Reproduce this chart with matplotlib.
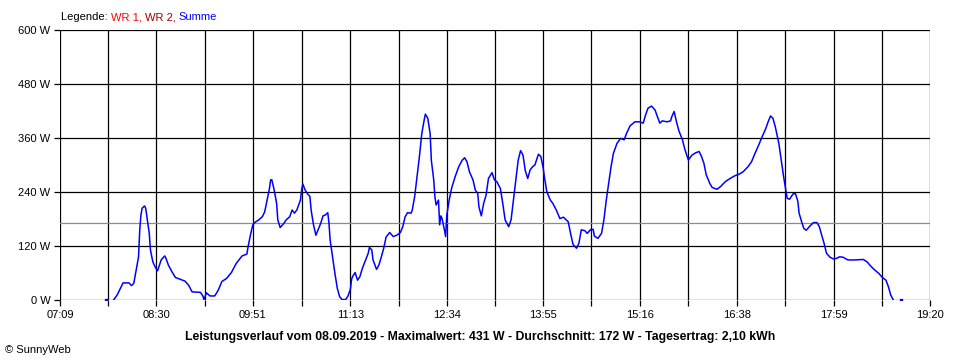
import matplotlib
matplotlib.use("Agg")
import matplotlib.pyplot as plt

plt.rcParams["font.family"] = ["Liberation Sans", "DejaVu Sans"]

# -----------------------------
# Data (minutes after midnight, Watt)
# -----------------------------
minutes = [474, 477, 481, 482, 487, 489, 491, 492, 493, 495,
           496, 497, 498, 500, 501, 502, 504, 505, 507, 509,
           511, 512, 514, 517, 518, 520, 523, 526, 530, 534,
           537, 540, 547, 549, 550, 552, 555, 559, 562, 565,
           569, 573, 577, 582, 586, 587, 589, 591, 593, 596,
           599, 601, 603, 605, 606, 607, 609, 611, 612, 614,
           617, 619, 622, 624, 626, 628, 631, 632, 633, 635,
           637, 639, 640, 642, 644, 646, 648, 650, 652, 654,
           655, 656, 658, 660, 662, 664, 666, 669, 671, 673,
           674, 675, 677, 679, 681, 683, 686, 688, 689, 691,
           692, 695, 697, 699, 701, 703, 706, 709, 712, 715,
           717, 719, 721, 724, 725, 727, 729, 731, 733, 735,
           736, 738, 740, 741, 743, 744, 745, 747, 748, 749,
           750, 752, 753, 754, 756, 758, 761, 764, 767, 769,
           771, 773, 776, 778, 780, 781, 783, 785, 787, 789,
           792, 794, 796, 799, 801, 803, 806, 808, 810, 812,
           814, 816, 818, 820, 822, 824, 826, 828, 831, 833,
           835, 836, 838, 841, 843, 846, 849, 852, 856, 858,
           860, 863, 865, 867, 870, 872, 875, 877, 878, 881,
           884, 886, 888, 890, 892, 894, 897, 900, 903, 905,
           908, 912, 916, 919, 921, 923, 926, 929, 931, 933,
           935, 939, 942, 943, 945, 947, 949, 952, 954, 957,
           960, 963, 966, 968, 970, 972, 975, 977, 981, 984,
           988, 992, 996, 1000, 1003, 1007, 1010, 1013, 1016, 1019,
           1022, 1024, 1026, 1028, 1030, 1033, 1035, 1037, 1039, 1040,
           1042, 1045, 1047, 1049, 1050, 1052, 1054, 1056, 1059, 1062,
           1065, 1067, 1069, 1071, 1073, 1076, 1079, 1082, 1084, 1087,
           1091, 1096, 1104, 1107, 1110, 1113, 1117, 1120, 1123, 1125,
           1127, 1129]

summe = [0, 11, 33, 38, 38, 32, 37, 52, 67, 96,
         156, 189, 204, 209, 204, 185, 148, 111, 85, 73,
         65, 73, 89, 98, 93, 78, 63, 50, 46, 42,
         33, 18, 17, 9, 1, 16, 9, 9, 22, 41,
         48, 61, 81, 98, 102, 118, 144, 167, 173, 178,
         185, 196, 222, 248, 267, 267, 244, 215, 178, 161,
         170, 178, 185, 200, 193, 200, 222, 244, 258, 244,
         236, 230, 200, 167, 144, 157, 170, 187, 189, 194,
         170, 133, 96, 59, 26, 7, 1, 1, 9, 24,
         46, 53, 61, 44, 52, 70, 90, 104, 117, 111,
         89, 68, 78, 96, 115, 140, 150, 141, 144, 150,
         163, 185, 194, 193, 200, 230, 274, 319, 370, 400,
         413, 404, 370, 311, 267, 230, 211, 222, 167, 187,
         181, 156, 141, 189, 222, 248, 274, 296, 311, 316,
         307, 285, 267, 244, 237, 207, 187, 215, 233, 270,
         283, 267, 263, 248, 215, 178, 163, 178, 222, 267,
         311, 332, 322, 287, 270, 289, 296, 300, 324, 319,
         293, 274, 241, 222, 215, 200, 181, 184, 174, 148,
         124, 115, 126, 156, 154, 148, 157, 157, 142, 137,
         148, 178, 222, 259, 296, 326, 348, 359, 356, 370,
         387, 396, 396, 393, 411, 426, 431, 422, 407, 393,
         398, 396, 398, 407, 419, 396, 376, 356, 335, 311,
         322, 327, 330, 319, 304, 278, 259, 250, 246, 252,
         263, 270, 276, 280, 285, 296, 307, 326, 344, 363,
         381, 396, 409, 404, 385, 348, 311, 274, 241, 226,
         224, 236, 236, 219, 193, 175, 159, 155, 164, 172,
         172, 163, 144, 126, 104, 95, 91, 93, 96, 95,
         89, 89, 90, 85, 76, 68, 59, 50, 44, 30,
         11, 1]

# single isolated readings before start / after end
stray_minutes = [468, 1136]
stray_summe = [0, 1]

average = 172
y_ticks = [0, 120, 240, 360, 480, 600]
x_labels = ["07:09", "08:30", "09:51", "11:13", "12:34",
            "13:55", "15:16", "16:38", "17:59", "19:20"]
title = ("Leistungsverlauf vom 08.09.2019 - Maximalwert: 431 W - "
         "Durchschnitt: 172 W - Tagesertrag: 2,10 kWh")


def to_min(s):
    h, m = s.split(":")
    return int(h) * 60 + int(m)


x_major = [to_min(s) for s in x_labels]
x_minor = [(a + b) / 2 for a, b in zip(x_major[:-1], x_major[1:])]

# -----------------------------
# Figure
# -----------------------------
fig = plt.figure(figsize=(9.6, 3.6), dpi=100)
ax = fig.add_axes([60 / 960, 60 / 360, 870 / 960, 270 / 360])

ax.set_xlim(x_major[0], x_major[-1])
ax.set_ylim(0, 600)

for x in x_major + x_minor:
    ax.axvline(x, color="black", lw=0.9, zorder=1)
for y in y_ticks:
    ax.axhline(y, color="black", lw=0.9, zorder=1)
ax.axhline(average, color="#8c8c8c", lw=0.9, zorder=2)

ax.plot(minutes, summe, color="#0000ff", lw=1.1, zorder=3)
ax.plot(stray_minutes, stray_summe, ls="none", marker="s", ms=1.5,
        color="#0000ff", zorder=3)

ax.set_xticks(x_major)
ax.set_xticklabels(x_labels)
ax.set_xticks(x_minor, minor=True)
ax.set_yticks(y_ticks)
ax.set_yticklabels([f"{v} W" for v in y_ticks])
ax.tick_params(axis="both", which="both", length=4, width=0.9,
               color="black", labelsize=8, pad=3)
for s in ax.spines.values():
    s.set_visible(False)

# legend line at the top
leg = fig.text(61 / 960, 1 - 17 / 360, "Legende: ", fontsize=8,
               va="center", ha="left", color="black")
prev = leg
for txt, col in [("WR 1, ", "#ff0000"), ("WR 2, ", "#990000"),
                 ("Summe", "#0000ff")]:
    prev = ax.annotate(txt, xy=(1, 0.5), xycoords=prev, fontsize=8,
                       va="center", ha="left", color=col,
                       annotation_clip=False)

fig.text(0.5, 1 - 337 / 360, title, fontsize=8.8, fontweight="bold",
         ha="center", va="center")
fig.text(5 / 960, 1 - 350 / 360, "\u00a9 SunnyWeb", fontsize=8,
         ha="left", va="center")

fig.savefig("out.png", dpi=100, facecolor="white")
